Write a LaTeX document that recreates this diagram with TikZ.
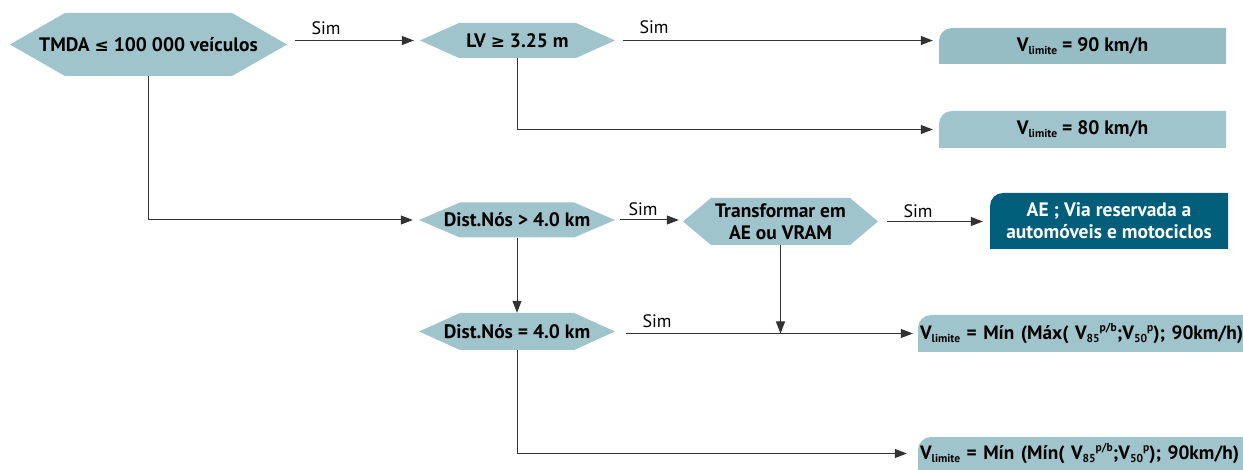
\documentclass[tikz,border=0pt]{standalone}
\usepackage{fontspec}
\setmainfont{PT Sans}
\newfontfamily\symfont{DejaVu Sans}
\usetikzlibrary{arrows.meta}
\definecolor{hexc}{RGB}{160,196,203}
\definecolor{resA}{RGB}{150,188,196}
\definecolor{resB}{RGB}{160,196,203}
\definecolor{aec}{RGB}{0,94,122}
\definecolor{linec}{RGB}{50,50,50}
\newcommand{\lo}[1]{\raisebox{-0.3ex}{\fontsize{11.5}{11.5}\selectfont #1}}
\newcommand{\hi}[1]{\raisebox{0.85ex}{\fontsize{11.5}{11.5}\selectfont #1}}
\newcommand{\symle}{{\symfont\bfseries\fontsize{17}{17}\selectfont ≤}}
\newcommand{\symge}{{\symfont\bfseries\fontsize{17}{17}\selectfont ≥}}
\tikzset{
  hex/.style={shape=rectangle, fill=white, inner sep=0pt, align=center,
    font=\bfseries\fontsize{19.5}{22}\selectfont,
    path picture={\fill[hexc] (path picture bounding box.west)
      -- ([xshift=#1pt]path picture bounding box.north west)
      -- ([xshift=-#1pt]path picture bounding box.north east)
      -- (path picture bounding box.east)
      -- ([xshift=-#1pt]path picture bounding box.south east)
      -- ([xshift=#1pt]path picture bounding box.south west) -- cycle;}},
  res/.style={shape=rectangle, fill=white, inner sep=2pt, align=center,
    font=\bfseries\fontsize{19.5}{22}\selectfont,
    path picture={\fill[#1] (path picture bounding box.south west)
      [rounded corners=13pt] -- (path picture bounding box.north west)
      [sharp corners] -- (path picture bounding box.north east)
      -- (path picture bounding box.south east) -- cycle;}},
  wide/.style={text width=321pt, align=left, font=\bfseries\fontsize{19.3}{22}\selectfont},
  lbl/.style={inner sep=0pt, font=\fontsize{18}{18}\selectfont},
  arr/.style={draw=linec, line width=1pt, -{Triangle[length=12pt,width=9pt]}},
}
\begin{document}
\begin{tikzpicture}[x=1pt,y=-1pt]
\useasboundingbox (0,0) rectangle (1243,470);
% decision nodes
\node[hex=55, minimum width=277pt, minimum height=63pt] (tmda) at (148.5,44.5) {TMDA \symle{} 100 000 veículos};
\node[hex=39, minimum width=195pt, minimum height=35pt] (lv) at (517.5,40.5) {LV \symge{} 3.25 m};
\node[hex=41, minimum width=196pt, minimum height=35pt] (d1) at (517,220) {Dist.Nós > 4.0 km};
\node[hex=28, minimum width=195pt, minimum height=47pt] (tr) at (780.5,221.5) {Transformar em\\AE ou VRAM};
\node[hex=41, minimum width=196pt, minimum height=37pt] (d2) at (517,331.5) {Dist.Nós = 4.0 km};
% result nodes
\node[res=resA, minimum width=287pt, minimum height=36pt] (r90) at (1082.5,46) {V\lo{limite} = 90 km/h};
\node[res=resB, minimum width=287pt, minimum height=37pt] (r80) at (1082.5,129.5) {V\lo{limite} = 80 km/h};
\node[res=aec, minimum width=238pt, minimum height=56pt, text=white] (ae) at (1109,221) {AE ; Via reservada a\\automóveis e motociclos};
\node[res=resB, wide, minimum width=325pt, minimum height=37pt] (rmax) at (1080.5,333.5) {\mbox{V\lo{limite} = Mín (Máx( V\lo{85}\hi{p/b};V\lo{50}\hi{p}); 90km/h)}};
\node[res=resB, wide, minimum width=325pt, minimum height=33pt] (rmin) at (1080.5,453.5) {\mbox{V\lo{limite} = Mín (Mín( V\lo{85}\hi{p/b};V\lo{50}\hi{p}); 90km/h)}};
% connectors
\draw[arr, shorten <=8pt, shorten >=6pt] (tmda.east |- lv.west) -- (lv.west);
\draw[arr, shorten <=8pt, shorten >=6pt] (lv.east) -- (lv.east -| r90.west);
\draw[arr, shorten >=6pt] (lv.south) |- (r80.west);
\draw[arr, shorten >=6pt] (tmda.south) |- (d1.west);
\draw[arr, shorten <=5pt, shorten >=4pt] (d1.east) -- (d1.east -| tr.west);
\draw[arr, shorten <=9pt, shorten >=7pt] (tr.east) -- (tr.east -| ae.west);
\draw[arr] (d1.south) -- (d2.north);
\coordinate (j) at (tr.south |- rmax.west);
\draw[arr] (tr.south) -- (j);
\draw[arr, shorten <=11pt, shorten >=5pt] (d2.east |- rmax.west) -- (rmax.west);
\draw[arr, shorten >=11pt] (d2.south) |- (rmin.west);
% labels
\node[lbl] (s1) at (326,28) {Sim};
\node[lbl] (s2) at (654,27) {Sim};
\node[lbl] (s3) at (643,209) {Sim};
\node[lbl] (s4) at (918,211) {Sim};
\node[lbl] (s5) at (657,321) {Sim};
\end{tikzpicture}
\end{document}
